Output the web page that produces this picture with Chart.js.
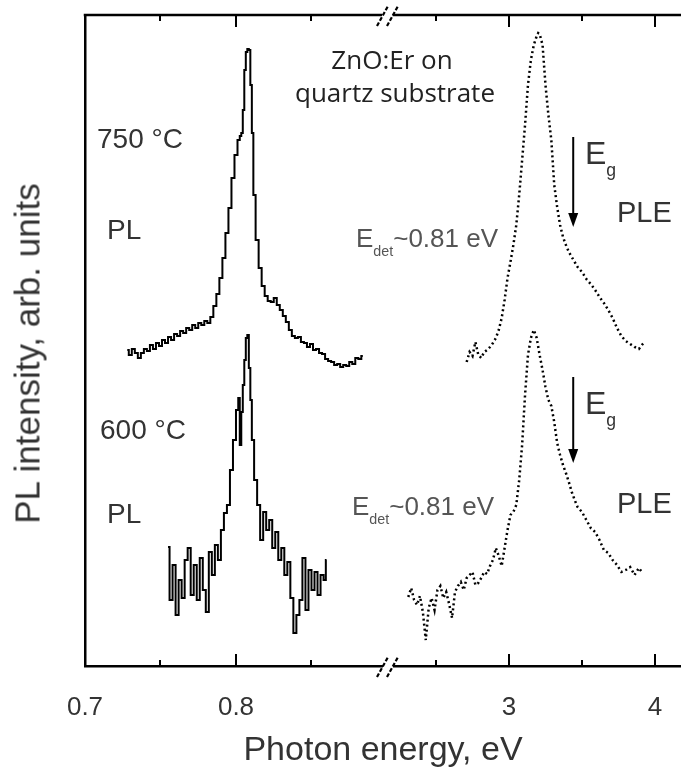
<!DOCTYPE html>
<html><head><meta charset="utf-8">
<script src="https://cdn.jsdelivr.net/npm/chart.js@4"></script>
<style>
html,body{margin:0;padding:0;background:#fff;overflow:hidden;width:681px;height:772px;}
#wrap{position:relative;width:681px;height:772px;overflow:hidden;}
canvas{position:absolute;top:0;}
.t{position:absolute;font-family:"Liberation Sans",Arial,sans-serif;color:#333;white-space:nowrap;line-height:1;}
.o{position:absolute;font-family:"Open Sans",sans-serif;color:#222;white-space:nowrap;line-height:1;text-align:center;width:300px;}
.sub{font-size:55%;position:relative;}
</style></head><body>
<div id="wrap">
<canvas id="cL" style="left:0px" width="400" height="772"></canvas>
<canvas id="cR" style="left:380px" width="320" height="772"></canvas>
<div class="o" style="left:242px;top:46px;font-size:26px;">ZnO:Er on</div>
<div class="o" style="left:245px;top:79px;font-size:26px;">quartz substrate</div>
<div class="t" style="left:97px;top:125px;font-size:28px;">750 °C</div>
<div class="t" style="left:107px;top:216px;font-size:28px;">PL</div>
<div class="t" style="left:100px;top:416px;font-size:28px;">600 °C</div>
<div class="t" style="left:107px;top:500px;font-size:28px;">PL</div>
<div class="t" style="left:356px;top:225px;font-size:26px;color:#555;">E<span class="sub" style="top:9px;">det</span>~0.81 eV</div>
<div class="t" style="left:352px;top:493px;font-size:26px;color:#555;">E<span class="sub" style="top:9px;">det</span>~0.81 eV</div>
<div class="t" style="left:585px;top:137px;font-size:32px;">E<span class="sub" style="top:12px;">g</span></div>
<div class="t" style="left:585px;top:387px;font-size:32px;">E<span class="sub" style="top:12px;">g</span></div>
<div class="t" style="left:617px;top:198px;font-size:29px;">PLE</div>
<div class="t" style="left:617px;top:489px;font-size:29px;">PLE</div>
<div class="t" style="left:233px;top:731px;font-size:34px;width:300px;text-align:center;">Photon energy, eV</div>
<div class="t" style="left:-173px;top:336px;font-size:35px;width:400px;height:35px;text-align:center;transform:rotate(-90deg);transform-origin:50% 50%;">PL intensity, arb. units</div>
</div>
<script>
// ---- data (photon energy in eV, PL intensity in arb. units) ----
const plE750 = [0.728,0.730,0.732,0.734,0.736,0.738,0.740,0.742,0.744,0.746,0.748,0.750,0.752,0.754,0.756,0.758,0.760,0.762,0.764,0.766,0.768,0.770,0.772,0.774,0.776,0.778,0.780,0.782,0.784,0.786,0.788,0.790,0.792,0.794,0.796,0.798,0.800,0.802,0.803,0.804,0.805,0.806,0.807,0.808,0.809,0.810,0.811,0.812,0.814,0.816,0.818,0.820,0.822,0.824,0.826,0.828,0.830,0.832,0.834,0.836,0.838,0.840,0.842,0.844,0.846,0.848,0.850,0.852,0.854,0.856,0.858,0.860,0.862,0.864,0.866,0.868,0.870,0.872,0.874,0.876,0.878,0.880,0.882,0.884];
const pl750 = [3.16,3.11,3.17,3.13,3.08,3.13,3.17,3.15,3.21,3.17,3.23,3.20,3.26,3.23,3.29,3.26,3.32,3.30,3.35,3.33,3.38,3.36,3.41,3.38,3.43,3.41,3.45,3.43,3.49,3.60,3.72,3.88,4.08,4.33,4.58,4.88,5.11,5.26,5.30,5.33,5.56,5.96,6.14,6.17,6.16,5.81,5.33,4.71,4.26,3.98,3.80,3.70,3.65,3.64,3.68,3.61,3.56,3.50,3.44,3.36,3.30,3.28,3.29,3.24,3.23,3.19,3.22,3.16,3.17,3.13,3.12,3.07,3.05,3.04,3.01,3.02,2.99,3.01,3.00,3.04,3.02,3.08,3.07,3.10];

const plE600 = [0.755,0.757,0.759,0.761,0.763,0.765,0.767,0.769,0.771,0.773,0.775,0.777,0.779,0.781,0.783,0.785,0.787,0.789,0.791,0.793,0.795,0.797,0.799,0.801,0.802,0.803,0.804,0.805,0.806,0.807,0.808,0.809,0.810,0.811,0.813,0.815,0.817,0.819,0.821,0.823,0.825,0.827,0.829,0.831,0.833,0.835,0.837,0.839,0.841,0.843,0.845,0.847,0.849,0.851,0.853,0.855,0.857,0.859,0.860];
const pl600 = [1.19,0.66,1.01,0.51,0.86,0.68,1.06,1.18,0.71,1.01,0.66,1.08,0.76,0.54,1.14,0.91,1.21,1.06,1.36,1.53,1.61,1.96,2.26,2.56,2.68,2.21,2.54,2.81,3.06,3.28,3.31,2.98,2.66,2.26,1.86,1.61,1.26,1.54,1.36,1.46,1.18,1.34,1.06,1.18,0.91,1.04,0.68,0.33,0.51,0.66,1.08,0.56,0.96,0.76,0.94,0.71,0.91,0.86,1.06];

const pleE750 = [2.71,2.73,2.75,2.77,2.79,2.81,2.83,2.85,2.87,2.89,2.91,2.93,2.95,2.97,2.99,3.01,3.03,3.05,3.07,3.09,3.11,3.13,3.15,3.17,3.19,3.20,3.21,3.23,3.25,3.27,3.29,3.31,3.33,3.35,3.37,3.39,3.41,3.43,3.45,3.47,3.50,3.53,3.56,3.59,3.62,3.65,3.68,3.71,3.74,3.77,3.80,3.83,3.86,3.89,3.91,3.93];
const ple750 = [3.04,3.14,3.10,3.24,3.11,3.08,3.14,3.16,3.19,3.23,3.28,3.36,3.48,3.66,3.88,4.04,4.21,4.41,4.71,5.06,5.41,5.81,6.06,6.21,6.30,6.33,6.32,6.21,5.81,5.51,5.26,4.81,4.59,4.41,4.29,4.21,4.14,4.09,4.04,3.99,3.94,3.87,3.82,3.76,3.69,3.63,3.56,3.48,3.38,3.30,3.25,3.22,3.19,3.17,3.21,3.24];

const pleE600 = [2.31,2.33,2.35,2.37,2.39,2.41,2.43,2.45,2.47,2.49,2.51,2.53,2.55,2.57,2.59,2.61,2.63,2.65,2.67,2.69,2.71,2.73,2.75,2.77,2.79,2.81,2.83,2.85,2.87,2.89,2.91,2.93,2.95,2.97,2.99,3.01,3.03,3.05,3.07,3.09,3.11,3.13,3.15,3.17,3.19,3.21,3.23,3.25,3.27,3.29,3.31,3.33,3.35,3.37,3.39,3.41,3.43,3.45,3.47,3.50,3.53,3.56,3.59,3.62,3.65,3.68,3.71,3.74,3.77,3.80,3.83,3.86,3.89,3.91];
const ple600 = [0.69,0.78,0.66,0.61,0.70,0.54,0.26,0.58,0.68,0.56,0.76,0.80,0.68,0.74,0.62,0.48,0.74,0.80,0.84,0.76,0.88,0.91,0.94,0.81,0.83,0.88,0.94,0.92,1.00,1.06,1.18,1.10,1.00,1.18,1.36,1.51,1.54,1.61,1.86,2.21,2.71,3.11,3.28,3.36,3.28,3.11,2.96,2.79,2.66,2.60,2.44,2.23,2.11,2.01,1.93,1.84,1.74,1.66,1.59,1.54,1.46,1.38,1.34,1.26,1.16,1.13,1.06,1.01,0.94,0.96,0.99,0.91,0.98,0.94];

// band-gap arrows: [energy, y start, y end]
const egArrows = [[3.44, 5.29, 4.39], [3.44, 2.89, 2.03]];

// axes
const yRange = [0, 6.51];
const xRangeL = [0.7, 0.8967];
const xRangeR = [2.2123, 4.24];
const ticksL = [0.7, 0.75, 0.8, 0.85];
const tickLabelsL = ['0.7', '', '0.8', ''];
const ticksR = [2.5, 3, 3.5, 4];
const tickLabelsR = ['', '3', '', '4'];

const pts = (xs, ys) => xs.map((e, i) => ({x: e, y: ys[i]}));
const FONT = '"Liberation Sans", Arial, sans-serif';

function frameTicks(chart, ticks, labels, extra) {
  const {ctx, chartArea: a, scales: {x}} = chart;
  ctx.save();
  ctx.strokeStyle = '#000';
  ctx.lineWidth = 2.5;
  ctx.beginPath();
  ctx.moveTo(a.left - 1.25, a.top);
  ctx.lineTo(a.right, a.top);
  ctx.stroke();
  ctx.lineWidth = 2;
  ticks.forEach((v, i) => {
    const px = Math.round(x.getPixelForValue(v));
    const len = labels[i] ? 12 : 6;
    ctx.beginPath();
    ctx.moveTo(px, a.top); ctx.lineTo(px, a.top + len);
    ctx.moveTo(px, a.bottom); ctx.lineTo(px, a.bottom - len);
    ctx.stroke();
  });
  if (extra) extra(ctx, a, chart);
  ctx.restore();
}

function slash(ctx, cx, cy) {
  ctx.save();
  ctx.setLineDash([4, 2]);
  ctx.lineWidth = 2.2;
  ctx.beginPath();
  ctx.moveTo(cx - 6, cy + 11);
  ctx.lineTo(cx + 5, cy - 9);
  ctx.stroke();
  ctx.restore();
}

const xAxis = (range, ticks, labels) => ({
  type: 'linear', min: range[0], max: range[1],
  afterBuildTicks: s => { s.ticks = ticks.map(v => ({value: v})); },
  afterFit: s => { s.height = 106; },
  grid: {display: false, drawTicks: false},
  border: {display: true, color: '#000', width: 2.5},
  ticks: {autoSkip: false, maxRotation: 0, padding: 26, color: '#333',
          font: {family: FONT, size: 26},
          callback: (v, i) => labels[i]}
});

const common = {
  responsive: false, animation: false, events: [],
  plugins: {legend: {display: false}, tooltip: {enabled: false}},
  elements: {point: {radius: 0}, line: {tension: 0}}
};

new Chart(document.getElementById('cL'), {
  type: 'line',
  data: {datasets: [
    {data: pts(plE750, pl750), borderColor: '#000', borderWidth: 2, stepped: 'middle'},
    {data: pts(plE600, pl600), borderColor: '#000', borderWidth: 2, stepped: 'middle'}
  ]},
  options: Object.assign({}, common, {
    layout: {padding: {top: 15, right: 18, left: 0, bottom: 0}},
    scales: {
      x: xAxis(xRangeL, ticksL, tickLabelsL),
      y: {min: yRange[0], max: yRange[1],
          afterFit: s => { s.width = 85; },
          grid: {display: false, drawTicks: false},
          border: {display: true, color: '#000', width: 2.5},
          ticks: {display: false},
          title: {display: false}}
    }
  }),
  plugins: [{id: 'frameL', afterDraw: ch => frameTicks(ch, ticksL, tickLabelsL, (ctx, a) => {
    ctx.strokeStyle = '#000';
    [a.top, a.bottom].forEach(yy => { slash(ctx, a.right + 1, yy); slash(ctx, a.right + 11, yy); });
  })}]
});

new Chart(document.getElementById('cR'), {
  type: 'line',
  data: {datasets: [
    {data: pts(pleE750, ple750), borderColor: '#000', borderWidth: 2.5, borderDash: [2, 3]},
    {data: pts(pleE600, ple600), borderColor: '#000', borderWidth: 2.5, borderDash: [2, 3]}
  ]},
  options: Object.assign({}, common, {
    layout: {padding: {top: 15, right: 10, left: 14, bottom: 0}},
    scales: {
      x: xAxis(xRangeR, ticksR, tickLabelsR),
      y: {display: false, min: yRange[0], max: yRange[1]}
    }
  }),
  plugins: [{id: 'frameR', afterDraw: ch => frameTicks(ch, ticksR, tickLabelsR, (ctx, a, c) => {
    const {x, y} = c.scales;
    ctx.strokeStyle = '#000'; ctx.fillStyle = '#000'; ctx.lineWidth = 2;
    egArrows.forEach(([e, y0, y1]) => {
      const px = x.getPixelForValue(e), p0 = y.getPixelForValue(y0), p1 = y.getPixelForValue(y1);
      ctx.beginPath(); ctx.moveTo(px, p0); ctx.lineTo(px, p1 - 12); ctx.stroke();
      ctx.beginPath(); ctx.moveTo(px - 5, p1 - 14); ctx.lineTo(px + 5, p1 - 14); ctx.lineTo(px, p1); ctx.closePath(); ctx.fill();
    });
  })}]
});
</script>
</body></html>
